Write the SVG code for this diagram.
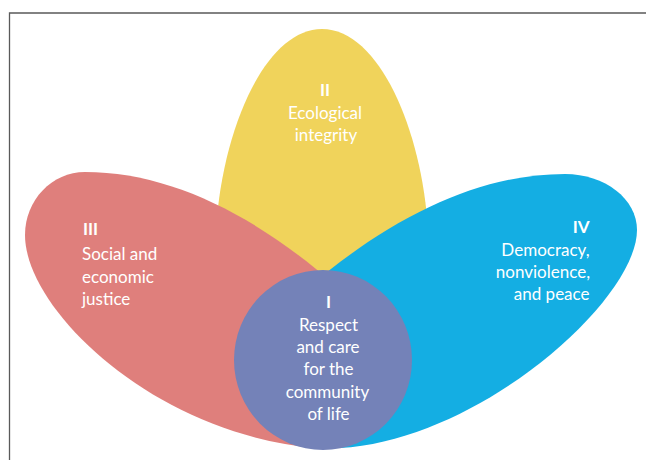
<svg xmlns="http://www.w3.org/2000/svg" width="646" height="460" viewBox="0 0 646 460">
  <style>
    .lbl { font-family: Lato, "Open Sans", "Liberation Sans", sans-serif; font-size: 17px; fill: #ffffff; }
    .num { font-weight: bold; }
    .mid { text-anchor: middle; }
    .end { text-anchor: end; }
  </style>
  <rect x="0" y="0" width="646" height="460" fill="#ffffff"/>
  <path d="M 9.5 460 L 9.5 13 L 646 13" fill="none" stroke="#5a5a5a" stroke-width="1.3"/>

  <g id="petal-ii">
    <path d="M 322 29 C 265 29 222 130 216 230 L 322 330 L 428 230 C 422 130 379 29 322 29 Z" fill="#F0D35B"/>
    <text class="lbl num mid" x="325" y="96">II</text>
    <text class="lbl mid" x="325" y="119">Ecological</text>
    <text class="lbl mid" x="326" y="141">integrity</text>
  </g>

  <g id="petal-iii">
    <path d="M 335 285 C 255 215 170 172 85 172 C 52 172 25 200 25 235 C 25 310 155 435 317 448 L 340 440 Z" fill="#DF7F7C"/>
    <text class="lbl num" x="83" y="235">III</text>
    <text class="lbl" x="82" y="260">Social and</text>
    <text class="lbl" x="82" y="282.5">economic</text>
    <text class="lbl" x="82" y="305">justice</text>
  </g>

  <g id="petal-iv">
    <path d="M 311 285 C 395 215 480 174 565 174 C 605 174 637 199 637 230 C 637 300 480 440 340 448 L 306 440 Z" fill="#14AEE3"/>
    <text class="lbl num end" x="589.5" y="233">IV</text>
    <text class="lbl end" x="589.5" y="255.5">Democracy,</text>
    <text class="lbl end" x="590" y="277.5">nonviolence,</text>
    <text class="lbl end" x="589.5" y="300">and peace</text>
  </g>

  <g id="center-i">
    <ellipse cx="323" cy="360" rx="89" ry="90" fill="#7482B8"/>
    <text class="lbl num mid" x="328.5" y="307.5">I</text>
    <text class="lbl mid" x="328.5" y="330.5">Respect</text>
    <text class="lbl mid" x="328" y="352.5">and care</text>
    <text class="lbl mid" x="328.5" y="375">for the</text>
    <text class="lbl mid" x="327.5" y="397.5">community</text>
    <text class="lbl mid" x="328.5" y="420">of life</text>
  </g>
</svg>
